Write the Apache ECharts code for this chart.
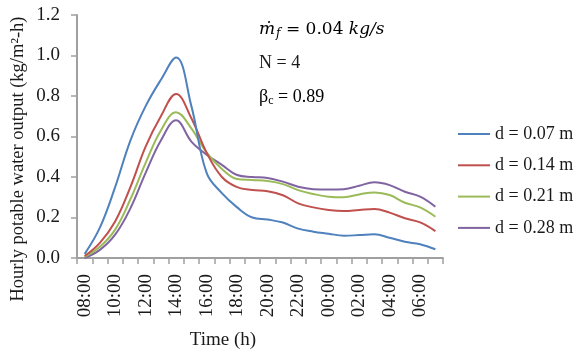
<!DOCTYPE html>
<html>
<head>
<meta charset="utf-8">
<script src="https://cdn.jsdelivr.net/npm/echarts@6/dist/echarts.min.js"></script>
<style>
html,body{margin:0;padding:0;background:#fff;}
#chart{width:576px;height:354px;}
</style>
</head>
<body>
<div id="chart"></div>
<script>
var categories = ['08:00','09:00','10:00','11:00','12:00','13:00','14:00','15:00','16:00','17:00','18:00','19:00','20:00','21:00','22:00','23:00','00:00','01:00','02:00','03:00','04:00','05:00','06:00','07:00'];
var seriesNames = ['d = 0.07 m','d = 0.14 m','d = 0.21 m','d = 0.28 m'];
var d007 = [0.02,0.15,0.35,0.58,0.75,0.88,0.99,0.75,0.42,0.32,0.25,0.20,0.19,0.175,0.145,0.13,0.12,0.11,0.113,0.117,0.10,0.08,0.068,0.043];
var d014 = [0.01,0.075,0.18,0.35,0.55,0.70,0.81,0.69,0.52,0.40,0.35,0.336,0.33,0.31,0.27,0.25,0.237,0.232,0.237,0.242,0.224,0.196,0.176,0.133];
var d021 = [0.005,0.055,0.14,0.29,0.47,0.63,0.72,0.64,0.52,0.44,0.39,0.385,0.38,0.365,0.335,0.316,0.303,0.30,0.314,0.324,0.311,0.273,0.25,0.204];
var d028 = [0.0,0.04,0.115,0.245,0.42,0.58,0.68,0.575,0.51,0.46,0.41,0.40,0.395,0.377,0.352,0.34,0.338,0.34,0.357,0.374,0.36,0.327,0.303,0.253];
var yTicks = ['0.0','0.2','0.4','0.6','0.8','1.0','1.2'];

var colors = ['#4F81BD','#C0504D','#9BBB59','#8064A2'];
var FONT = 'Liberation Serif';
var MATH = 'DejaVu Serif';
var chart = echarts.init(document.getElementById('chart'), null, {renderer:'canvas'});
var dataSets = [d007,d014,d021,d028];
var series = dataSets.map(function(d,i){
  return {
    name: seriesNames[i], type:'line', data:d, smooth:0.4, symbol:'none', showSymbol:false,
    lineStyle:{color:colors[i], width:2}, itemStyle:{color:colors[i]}, z: 10-i
  };
});
var axisGray = '#A0A0A0';
chart.setOption({
  animation:false,
  backgroundColor:'#ffffff',
  color: colors,
  grid:{left:77, top:15, right:133, bottom:96, containLabel:false, outerBoundsMode:'none'},
  xAxis:{
    type:'category', data:categories, boundaryGap:true,
    axisLine:{show:true, lineStyle:{color:axisGray, width:2}},
    axisTick:{show:true, interval:0, alignWithLabel:false, length:6, lineStyle:{color:axisGray, width:1.5}},
    axisLabel:{interval:1, rotate:90, margin:16, color:'#1a1a1a', fontFamily:FONT, fontSize:19, hideOverlap:false},
    splitLine:{show:false}
  },
  yAxis:{
    type:'value', min:0, max:1.2, interval:0.2,
    axisLine:{show:true, lineStyle:{color:axisGray, width:2}},
    axisTick:{show:true, length:6, lineStyle:{color:axisGray, width:1.5}},
    axisLabel:{margin:17, color:'#1a1a1a', fontFamily:FONT, fontSize:19,
      formatter:function(v){ return yTicks[Math.round(v/0.2)]; }},
    splitLine:{show:false}
  },
  legend:{
    orient:'vertical', left:453, top:119, itemWidth:32, itemHeight:14, itemGap:11.3,
    icon: 'path://M0,6 L32,6 L32,8 L0,8 Z',
    textStyle:{fontFamily:FONT, fontSize:18, color:'#1a1a1a', lineHeight:20},
    data: seriesNames
  },
  graphic:[
    {type:'text', x:18, y:159, rotation:Math.PI/2,
      style:{text:'Hourly potable water output (kg/m²-h)', fontFamily:FONT, fontSize:18.5, fill:'#1a1a1a', align:'center', verticalAlign:'middle'}},
    {type:'text', x:223, y:340,
      style:{text:'Time (h)', fontFamily:FONT, fontSize:19, fill:'#1a1a1a', align:'center', verticalAlign:'middle'}},
    {type:'text', x:259, y:30,
      style:{text:'{i|ṁ}{s|f}{n| = 0.04 }{i|kg/s}', align:'left', verticalAlign:'middle',
        rich:{
          i:{fontFamily:MATH, fontStyle:'italic', fontSize:17, color:'#1a1a1a'},
          s:{fontFamily:MATH, fontStyle:'italic', fontSize:12, color:'#1a1a1a', padding:[8,0,0,1]},
          n:{fontFamily:MATH, fontSize:17, color:'#1a1a1a'}
        }}},
    {type:'text', x:259, y:63,
      style:{text:'N = 4', fontFamily:FONT, fontSize:18, fill:'#1a1a1a', align:'left', verticalAlign:'middle'}},
    {type:'text', x:259, y:97,
      style:{text:'{n|β}{s|c}{n| = 0.89}', align:'left', verticalAlign:'middle',
        rich:{
          n:{fontFamily:FONT, fontSize:18, color:'#1a1a1a'},
          s:{fontFamily:FONT, fontSize:12, color:'#1a1a1a', padding:[8,0,0,0]}
        }}}
  ],
  series: series
});
</script>
</body>
</html>
